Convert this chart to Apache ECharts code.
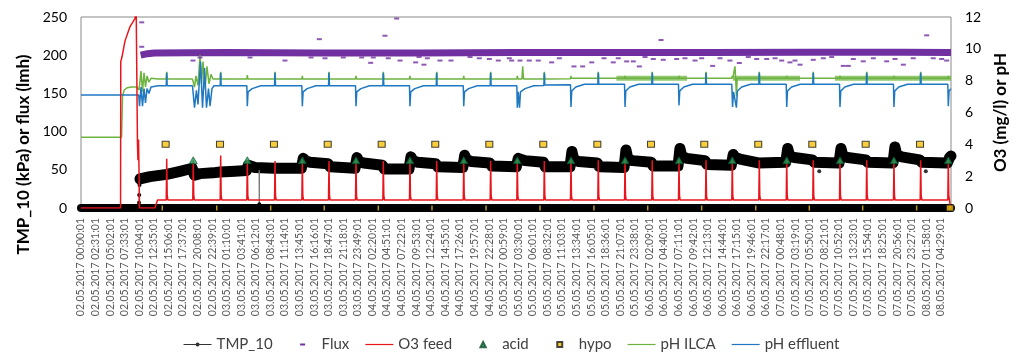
<!DOCTYPE html>
<html><head><meta charset="utf-8">
<script src="https://cdn.jsdelivr.net/npm/echarts/dist/echarts.min.js"></script>
<style>html,body{margin:0;padding:0;background:#fff}#c{width:1023px;height:364px}</style>
</head><body><div id="c"></div>
<script>
// x values are minutes since 02.05.2017 00:00:01; one tick every 151 minutes
const xTickLabels = ['02.05.2017 00:00:01','02.05.2017 02:31:01','02.05.2017 05:02:01','02.05.2017 07:33:01','02.05.2017 10:04:01','02.05.2017 12:35:01','02.05.2017 15:06:01','02.05.2017 17:37:01','02.05.2017 20:08:01','02.05.2017 22:39:01',
'03.05.2017 01:10:01','03.05.2017 03:41:01','03.05.2017 06:12:01','03.05.2017 08:43:01','03.05.2017 11:14:01','03.05.2017 13:45:01','03.05.2017 16:16:01','03.05.2017 18:47:01','03.05.2017 21:18:01','03.05.2017 23:49:01',
'04.05.2017 02:20:01','04.05.2017 04:51:01','04.05.2017 07:22:01','04.05.2017 09:53:01','04.05.2017 12:24:01','04.05.2017 14:55:01','04.05.2017 17:26:01','04.05.2017 19:57:01','04.05.2017 22:28:01','05.05.2017 00:59:01',
'05.05.2017 03:30:01','05.05.2017 06:01:01','05.05.2017 08:32:01','05.05.2017 11:03:01','05.05.2017 13:34:01','05.05.2017 16:05:01','05.05.2017 18:36:01','05.05.2017 21:07:01','05.05.2017 23:38:01','06.05.2017 02:09:01',
'06.05.2017 04:40:01','06.05.2017 07:11:01','06.05.2017 09:42:01','06.05.2017 12:13:01','06.05.2017 14:44:01','06.05.2017 17:15:01','06.05.2017 19:46:01','06.05.2017 22:17:01','07.05.2017 00:48:01','07.05.2017 03:19:01',
'07.05.2017 05:50:01','07.05.2017 08:21:01','07.05.2017 10:52:01','07.05.2017 13:23:01','07.05.2017 15:54:01','07.05.2017 18:25:01','07.05.2017 20:56:01','07.05.2017 23:27:01','08.05.2017 01:58:01','08.05.2017 04:29:01'];
const xStep = 151;
const xMax = 9013;

const tmpBand = [[611,38],[715,41],[888,44],[1026,48],[1153,52],
[1163,52],[1175,43],[1233,45],[1367,46],[1440,47],[1595,48],[1713,49],
[1723,49],[1733,56],[1753,55],[1803,53],[2000,52],[2020,52],[2283,52],
[2293,52],[2303,65],[2323,62],[2373,60],[2559,58],[2579,54],[2839,52],
[2849,52],[2859,66],[2879,61],[2929,59],[3122,56],[3142,51],[3398,51],
[3408,51],[3418,67],[3438,62],[3488,60],[3675,58],[3695,54],[3955,53],
[3965,53],[3975,69],[3995,63],[4045,61],[4234,59],[4254,55],[4510,54],
[4520,54],[4530,65],[4550,63],[4600,62],[4790,60],[4810,54],[5066,54],
[5076,54],[5086,74],[5106,63],[5156,61],[5349,59],[5369,54],[5626,53],
[5636,53],[5646,76],[5666,64],[5716,62],[5908,60],[5928,55],[6185,55],
[6195,55],[6205,78],[6225,67],[6275,65],[6465,62],[6485,57],[6737,56],
[6747,56],[6757,70],[6777,66],[6827,64],[7017,59],[7037,57],[7301,60],
[7311,60],[7321,78],[7341,68],[7391,66],[7576,63],[7596,60],[7853,59],
[7863,59],[7873,78],[7893,68],[7943,66],[8130,63],[8150,60],[8412,59],
[8422,59],[8432,80],[8452,69],[8502,67],[8689,63],[8709,60],[8975,59],
[8985,60],[8998,66],[9013,68]];
const tmpStart = [[598,0],[601,7],[603,17],[606,30]];
const tmpDrop = [[1844,52],[1847,5],[1850,52]];
const tmpStray = [[7648,48],[8752,48]];

const fluxBand = [[618,200],[690,202],[760,203],[1500,203.5],[2500,203],[3500,203],[4500,203.5],[5500,203.5],[6500,203.5],[7500,203.7],[8500,203.7],[9013,203.5]];
const fluxStray = [[629,243],[629,211],[1160,193],[1233,197],[1751,197],[2113,193],[2383,197],[2469,221],[2528,196],[2717,197],[2908,197],[3001,190],[3028,197],[3149,225.5],[3183,196],[3270,248],[3305,193],[3467,190.6],[3502,197.6],[3553,187.6],[3588,196],[3719,193],[3833,193],[4030,197.6],[4126,196],[4230,195],[4323,193],[4437,196],[4462,193],[4548,193],[4644,193],[4737,193],[4876,190.6],[4955,196],[5107,185.3],[5197,185.3],[5291,190.6],[5418,196],[5514,190.6],[5566,196],[5653,191.9],[5722,191.9],[5784,185.3],[5843,197.6],[5929,195],[6009,219.9],[6032,194],[6171,195],[6257,196],[6361,193],[6430,196],[6544,186],[6620,196],[6723,193],[6820,189.8],[6913,197.6],[7000,195],[7104,195],[7190,196],[7259,193],[7345,190.6],[7397,193],[7449,187.6],[7586,194],[7690,196],[7777,197.6],[7897,186],[7949,186],[8001,195],[8104,192],[8208,196],[8347,192],[8433,195],[8519,187.6],[8622,196],[8761,226],[8829,196],[8916,195],[8968,193]];

const o3Feed = [[0,0],[410,0],[412,9.2],[425,9.5],[456,10.5],[508,11.4],[559,11.9],[572,12.3],[585,4.0],[590,3.0],[596,4.3],[601,2.4],[606,0],[766,0],[793,0.5],
[883,0.5],[888,3.1],[893,0.8],[900,0.5],[1158,0.5],[1163,3.0],[1168,0.8],[1175,0.5],[1442,0.5],[1447,3.3],[1452,0.8],[1459,0.5],[1718,0.5],[1723,3.0],[1728,0.8],[1735,0.5],
[2005,0.5],[2010,2.95],[2015,0.8],[2022,0.5],[2288,0.5],[2293,3.0],[2298,0.8],[2305,0.5],[2564,0.5],[2569,2.95],[2574,0.8],[2581,0.5],[2844,0.5],[2849,3.0],[2854,0.8],[2861,0.5],
[3127,0.5],[3132,2.95],[3137,0.8],[3144,0.5],[3403,0.5],[3408,3.0],[3413,0.8],[3420,0.5],[3680,0.5],[3685,2.95],[3690,0.8],[3697,0.5],[3960,0.5],[3965,3.0],[3970,0.8],[3977,0.5],
[4239,0.5],[4244,2.95],[4249,0.8],[4256,0.5],[4515,0.5],[4520,3.0],[4525,0.8],[4532,0.5],[4795,0.5],[4800,2.95],[4805,0.8],[4812,0.5],[5071,0.5],[5076,3.0],[5081,0.8],[5088,0.5],
[5354,0.5],[5359,3.0],[5364,0.8],[5371,0.5],[5631,0.5],[5636,3.0],[5641,0.8],[5648,0.5],[5913,0.5],[5918,3.0],[5923,0.8],[5930,0.5],[6190,0.5],[6195,3.0],[6200,0.8],[6207,0.5],
[6470,0.5],[6475,3.0],[6480,0.8],[6487,0.5],[6742,0.5],[6747,3.0],[6752,0.8],[6759,0.5],[7022,0.5],[7027,3.0],[7032,0.8],[7039,0.5],[7306,0.5],[7311,3.0],[7316,0.8],[7323,0.5],
[7581,0.5],[7586,3.0],[7591,0.8],[7598,0.5],[7858,0.5],[7863,3.0],[7868,0.8],[7875,0.5],[8135,0.5],[8140,3.0],[8145,0.8],[8152,0.5],[8417,0.5],[8422,3.0],[8427,0.8],[8434,0.5],
[8694,0.5],[8699,3.0],[8704,0.8],[8711,0.5],[8980,0.5],[8985,3.0],[8990,0.8],[8997,0.5],[9002,0.5],[9006,0]];

const acidPts = [[1163,3],[1723,3],[2293,3],[2849,3],[3408,3],[3965,3],[4520,3],[5076,3],[5636,3],[6195,3],[6747,3],[7311,3],[7863,3],[8422,3],[8985,3]];
const hypoPts = [[877,4],[1440,4],[1999,4],[2556,4],[3115,4],[3670,4],[4230,4],[4789,4],[5349,4],[5905,4],[6457,4],[7016,4],[7576,4],[8129,4],[8692,4],[9002,0]];
const hypoTicks = [[842,0],[1406,0],[1965,0],[2520,0],[3080,0],[3636,0],[4196,0],[4755,0],[5314,0],[5871,0],[6430,0],[6990,0],[7545,0],[8098,0],[8657,0]];

const phIlca = [[0,4.45],[420,4.45],[430,7.0],[446,7.4],[477,7.55],[528,7.6],[580,7.6],[596,7.55],[601,7.4],[622,8.6],[637,7.3],[653,8.5],[668,7.6],[684,8.3],[704,7.9],[725,8.15],[800,8.1],
[883,8.1],[888,8.55],[893,8.1],[1155,8.1],[1160,8.1],[1176,7.6],[1191,8.3],[1212,7.7],[1233,9.6],[1248,7.8],[1264,9.2],[1285,7.5],[1305,8.9],[1326,7.8],[1347,8.4],[1367,8.1],
[1442,8.1],[1447,8.55],[1452,8.1],[1718,8.1],[1723,8.35],[1728,8.1],[2005,8.1],[2010,8.55],[2015,8.1],[2288,8.1],[2293,8.3],[2298,8.1],[2564,8.1],[2569,8.55],[2574,8.1],
[2844,8.1],[2849,8.3],[2854,8.1],[3127,8.1],[3132,8.55],[3137,8.1],[3403,8.1],[3408,8.3],[3413,8.1],[3680,8.1],[3685,8.55],[3690,8.1],[3960,8.1],[3965,8.3],[3970,8.1],
[4239,8.1],[4244,8.55],[4249,8.1],[4515,8.1],[4520,8.3],[4527,8.1],[4568,8.1],[4576,8.9],[4584,8.1],[4795,8.1],[4800,8.55],[4805,8.1],[5071,8.12],[5076,8.3],[5081,8.15],
[5354,8.15],[5359,8.55],[5364,8.15],[5631,8.15],[5636,8.3],[5641,8.15],[5913,8.15],[5918,8.55],[5923,8.15],[6190,8.15],[6195,8.3],[6200,8.15],[6470,8.15],[6475,8.55],[6480,8.15],
[6742,8.15],[6747,8.3],[6752,8.15],[6768,8.15],[6775,8.9],[6782,8.15],[6790,7.0],[6798,8.15],[7022,8.15],[7027,8.55],[7032,8.15],[7306,8.15],[7311,8.3],[7316,8.15],
[7581,8.15],[7586,8.55],[7591,8.15],[7858,8.15],[7863,8.3],[7868,8.15],[8135,8.15],[8140,8.55],[8145,8.15],[8417,8.15],[8422,8.3],[8427,8.15],[8694,8.15],[8699,8.55],[8704,8.15],
[8980,8.15],[8985,8.3],[8990,8.15],[9013,8.15]];
const phIlcaNoisy = [[5547,8.15],[6278,8.15],[6279,'-'],[6754,8.15],[7449,8.15],[7450,'-'],[7811,8.15],[9013,8.15]];

const phEffluent = [[0,7.1],[598,7.1],[606,6.4],[622,7.6],[637,6.4],[653,7.5],[668,6.6],[684,7.5],[704,7.2],[725,7.6],[800,7.68],
[883,7.68],[888,8.5],[893,7.68],[1155,7.68],[1160,7.7],[1176,6.3],[1196,7.4],[1212,6.5],[1238,9.2],[1259,6.3],[1280,8.8],[1300,6.3],[1321,7.5],[1337,6.4],[1357,7.5],[1378,7.68],
[1442,7.68],[1447,8.5],[1452,7.68],
[1718,7.68],[1723,6.4],[1731,7.3],[1773,7.5],[1863,7.68],[2005,7.68],[2010,8.5],[2015,7.68],
[2288,7.68],[2293,6.4],[2301,7.3],[2343,7.5],[2433,7.68],[2564,7.68],[2569,8.5],[2574,7.68],
[2844,7.68],[2849,6.4],[2857,7.3],[2899,7.5],[2989,7.68],[3127,7.68],[3132,8.5],[3137,7.68],
[3403,7.68],[3408,6.4],[3416,7.3],[3458,7.5],[3548,7.68],[3680,7.68],[3685,8.5],[3690,7.68],
[3960,7.68],[3965,6.4],[3973,7.3],[4015,7.5],[4105,7.68],[4239,7.68],[4244,8.5],[4249,7.68],
[4515,7.68],[4520,6.3],[4530,7.3],[4543,6.3],[4553,7.3],[4600,7.5],[4690,7.68],[4795,7.7],[4800,8.5],[4805,7.72],
[5071,7.75],[5076,6.35],[5084,7.35],[5126,7.6],[5216,7.78],[5354,7.78],[5359,8.5],[5364,7.78],
[5631,7.78],[5636,6.35],[5644,7.35],[5686,7.6],[5776,7.78],[5913,7.78],[5918,8.5],[5923,7.78],
[6190,7.78],[6195,6.45],[6203,7.35],[6245,7.6],[6335,7.78],[6470,7.78],[6475,8.5],[6480,7.78],
[6742,7.78],[6750,6.35],[6760,7.3],[6790,6.3],[6800,7.35],[6845,7.6],[6935,7.78],[7022,7.78],[7027,8.5],[7032,7.78],
[7306,7.78],[7311,6.35],[7319,7.35],[7361,7.6],[7451,7.78],[7581,7.78],[7586,8.5],[7591,7.78],
[7858,7.78],[7863,6.35],[7871,7.35],[7913,7.6],[8003,7.78],[8135,7.78],[8140,8.5],[8145,7.78],
[8417,7.78],[8422,6.35],[8430,7.35],[8472,7.6],[8562,7.78],[8694,7.78],[8699,8.5],[8704,7.78],
[8980,7.78],[8985,6.4],[8993,7.35],[9013,7.5]];

const FONT = 'Lato, "Open Sans", sans-serif';
const chart = echarts.init(document.getElementById('c'), null, {renderer: 'canvas'});
const box = 'M0,0 M28,6 ';
const lineIcon = 'path://' + box + 'M0,2.4 L28,2.4 L28,3.6 L0,3.6 Z';
const tmpIcon = 'path://' + box + 'M0,2.5 L28,2.5 L28,3.5 L0,3.5 Z M12,3 A2,2 0 1 1 16,3 A2,2 0 1 1 12,3 Z';
const dashIcon = 'path://' + box + 'M11.5,2 L16.5,2 L16.5,4 L11.5,4 Z';
const triIcon = 'path://' + box + 'M11.3,5.8 L14,0.4 L16.7,5.8 Z';
const sqIcon = 'path://' + box + 'M11.5,0.5 L16.5,0.5 L16.5,5.5 L11.5,5.5 Z';

chart.setOption({
  animation: false,
  textStyle: {fontFamily: FONT},
  grid: {left: 81, top: 17, width: 870, height: 191, show: true, borderColor: '#8a8a8a', borderWidth: 1, backgroundColor: 'transparent', outerBoundsMode: 'none', containLabel: false},
  legend: {
    top: 332, left: 'center', itemWidth: 28, itemHeight: 6, itemGap: 16,
    textStyle: {fontSize: 15, color: '#404040', fontFamily: FONT},
    data: [
      {name: 'TMP_10', icon: tmpIcon, itemStyle: {color: '#333'}},
      {name: 'Flux', icon: dashIcon},
      {name: 'O3 feed', icon: lineIcon},
      {name: 'acid', icon: triIcon},
      {name: 'hypo', icon: sqIcon},
      {name: 'pH ILCA', icon: lineIcon},
      {name: 'pH effluent', icon: lineIcon}
    ]
  },
  xAxis: {
    type: 'value', min: 0, max: xMax, interval: xStep,
    axisLine: {show: true, onZero: false, lineStyle: {color: '#000', width: 8}},
    axisTick: {show: false}, splitLine: {show: false},
    axisLabel: {
      rotate: 90, fontSize: 10.5, color: '#595959', margin: 10, fontFamily: FONT,
      showMaxLabel: false,
      formatter: function (v) {
        const i = Math.round(v / xStep);
        return (Math.abs(v - i * xStep) < 1e-6 && i < xTickLabels.length) ? xTickLabels[i] : '';
      }
    }
  },
  yAxis: [
    {type: 'value', min: 0, max: 250, interval: 50, position: 'left',
     name: 'TMP_10 (kPa) or flux (lmh)', nameLocation: 'middle', nameRotate: 90, nameGap: 49,
     nameTextStyle: {fontSize: 17, fontWeight: 'bold', color: '#000', fontFamily: FONT, padding: [0, 84, 0, 0]},
     axisLine: {show: false}, axisTick: {show: false}, splitLine: {show: false},
     axisLabel: {fontSize: 14, color: '#000', margin: 14, fontFamily: FONT}},
    {type: 'value', min: 0, max: 12, interval: 2, position: 'right',
     name: 'O3 (mg/l) or pH', nameLocation: 'middle', nameRotate: 90, nameGap: 39,
     nameTextStyle: {fontSize: 17, fontWeight: 'bold', color: '#000', fontFamily: FONT},
     axisLine: {show: false}, axisTick: {show: false}, splitLine: {show: false},
     axisLabel: {fontSize: 14, color: '#000', margin: 14, fontFamily: FONT}}
  ],
  series: [
    {name: 'TMP_10', type: 'line', yAxisIndex: 0, data: tmpBand, symbol: 'circle', symbolSize: 4, showSymbol: false,
     lineStyle: {color: '#000', width: 11, cap: 'round', join: 'round'}, itemStyle: {color: '#000'}, z: 2},
    {name: 'TMP_10', type: 'line', yAxisIndex: 0, data: tmpStart, symbol: 'circle', symbolSize: 4, showSymbol: true,
     lineStyle: {color: '#555', width: 1}, itemStyle: {color: '#000'}, z: 2},
    {name: 'TMP_10', type: 'line', yAxisIndex: 0, data: tmpDrop, symbol: 'circle', symbolSize: 4, showSymbol: true,
     lineStyle: {color: '#777', width: 1}, itemStyle: {color: '#000'}, z: 2},
    {name: 'TMP_10', type: 'scatter', yAxisIndex: 0, data: tmpStray, symbol: 'circle', symbolSize: 4, itemStyle: {color: '#000'}, z: 2},
    {name: 'Flux', type: 'line', yAxisIndex: 0, data: fluxBand, symbol: 'none',
     lineStyle: {color: '#7030a0', width: 7}, itemStyle: {color: '#7030a0'}, z: 3},
    {name: 'Flux', type: 'scatter', yAxisIndex: 0, data: fluxStray, symbol: 'rect', symbolSize: [5, 2],
     itemStyle: {color: '#7030a0'}, z: 3},
    {name: 'pH ILCA', type: 'line', yAxisIndex: 1, data: phIlcaNoisy, symbol: 'none', connectNulls: false,
     lineStyle: {color: '#6db33f', width: 5, opacity: 0.75}, itemStyle: {color: '#6db33f'}, z: 3},
    {name: 'pH ILCA', type: 'line', yAxisIndex: 1, data: phIlca, symbol: 'none',
     lineStyle: {color: '#6db33f', width: 1.5}, itemStyle: {color: '#6db33f'}, z: 3},
    {name: 'pH effluent', type: 'line', yAxisIndex: 1, data: phEffluent, symbol: 'none',
     lineStyle: {color: '#1f78c1', width: 1.5}, itemStyle: {color: '#1f78c1'}, z: 3},
    {name: 'O3 feed', type: 'line', yAxisIndex: 1, data: o3Feed, symbol: 'none',
     lineStyle: {color: '#e8161c', width: 1.5}, itemStyle: {color: '#e8161c'}, z: 4},
    {name: 'acid', type: 'scatter', yAxisIndex: 1, data: acidPts, symbol: 'triangle', symbolSize: [8, 7],
     itemStyle: {color: '#21a05a', borderColor: '#0b4a27', borderWidth: 0.8}, z: 5},
    {name: 'hypo', type: 'scatter', yAxisIndex: 1, data: hypoPts, symbol: 'rect', symbolSize: [7, 6],
     itemStyle: {color: '#f6c20c', borderColor: '#1a1a1a', borderWidth: 1}, z: 5},
    {name: 'hypo', type: 'scatter', yAxisIndex: 1, data: hypoTicks, symbol: 'rect', symbolSize: [1.5, 5],
     itemStyle: {color: '#e8c030'}, z: 5}
  ]
});
</script>
</body></html>
